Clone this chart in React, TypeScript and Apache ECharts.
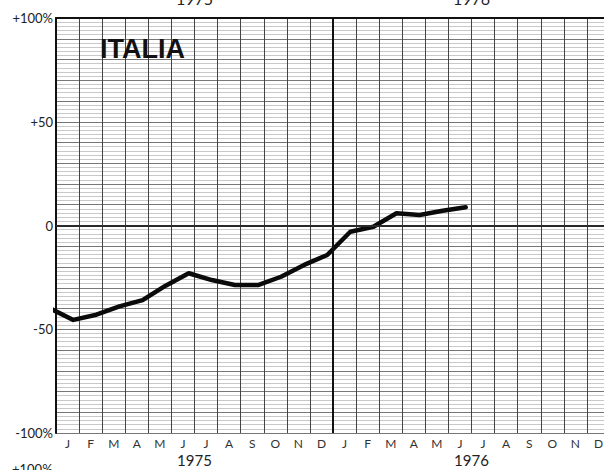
import React, { useEffect, useRef } from "react";
import * as echarts from "echarts";

const months = ["J", "F", "M", "A", "M", "J", "J", "A", "S", "O", "N", "D"];
const monthLabels = [...months, ...months];
const years = ["1975", "1976"];
const yLabels: Record<number, string> = { 100: "+100%", 50: "+50", 0: "0", [-50]: "-50", [-100]: "-100%" };
// month position (0 = start of Jan 1975) of each reading, Dec 1974 .. Jun 1976
const readingMonths = [-0.25, 0.75, 1.75, 2.75, 3.75, 4.75, 5.75, 6.75, 7.75, 8.75, 9.75, 10.75, 11.75, 12.75, 13.75, 14.75, 15.75, 16.75, 17.75];
const values = [-40, -45.5, -43, -39, -36, -29, -23, -26.3, -28.7, -28.7, -24.7, -19, -14.2, -3, -0.6, 5.9, 5.1, 7.1, 8.8];

const FONT = "Lato, 'DejaVu Sans', sans-serif";

export default function App() {
  const ref = useRef<HTMLDivElement>(null);
  useEffect(() => {
    if (!ref.current) return;
    const chart = echarts.init(ref.current, null, { renderer: "svg" });
    chart.setOption({
      animation: false,
      backgroundColor: "#ffffff",
      title: {
        text: "ITALIA",
        left: 100,
        top: 35,
        padding: 0,
        textStyle: { fontFamily: "'Liberation Sans', Arial, sans-serif", fontWeight: "bold", fontSize: 27, color: "#111" },
      },
      grid: { left: 56, top: 18, width: 554, height: 415, containLabel: false, outerBoundsMode: "none" },
      xAxis: [
        {
          type: "category",
          position: "bottom",
          data: monthLabels,
          boundaryGap: true,
          axisLine: { show: true, lineStyle: { color: "#111", width: 2 } },
          axisTick: { show: false },
          axisLabel: { interval: 0, color: "#333", fontSize: 12, fontFamily: FONT, margin: 4 },
          splitLine: { show: true, interval: 0, lineStyle: { color: "#444", width: 1 } },
        },
        {
          type: "category",
          position: "bottom",
          data: years,
          offset: 16,
          axisLine: { show: false },
          axisTick: { show: false },
          axisLabel: { interval: 0, color: "#222", fontSize: 15, fontFamily: FONT, margin: 3 },
          splitLine: { show: false },
        },
        {
          type: "category",
          position: "top",
          data: years,
          offset: 0,
          axisLine: { show: true, lineStyle: { color: "#111", width: 2 } },
          axisTick: { show: false },
          axisLabel: { interval: 0, color: "#222", fontSize: 16, fontFamily: FONT, margin: 12 },
          splitLine: { show: false },
        },
        { type: "value", min: 0, max: 24, show: false, splitLine: { show: false } },
      ],
      yAxis: {
        type: "value",
        min: -100,
        max: 100,
        interval: 10,
        axisLine: { show: true, lineStyle: { color: "#111", width: 2 } },
        axisTick: { show: false },
        axisLabel: {
          color: "#222",
          fontSize: 13,
          fontFamily: FONT,
          margin: 3,
          formatter: (v: number) => yLabels[v] ?? "",
        },
        splitLine: { show: true, lineStyle: { color: "#777", width: 1 } },
        minorTick: { show: false, splitNumber: 5 },
        minorSplitLine: { show: true, lineStyle: { color: "#bbb", width: 0.8 } },
      },
      graphic: [
        { type: "text", left: 12, top: 462, style: { text: "+100%", fill: "#222", font: `13px ${FONT}` } },
      ],
      series: [
        {
          type: "line",
          xAxisIndex: 3,
          data: readingMonths.map((m, i) => [m, values[i]]),
          showSymbol: false,
          clip: true,
          lineStyle: { color: "#0a0a0a", width: 4.5, join: "round", cap: "round" },
          markLine: {
            silent: true,
            symbol: "none",
            label: { show: false },
            data: [
              { xAxis: 12, lineStyle: { color: "#111", width: 2, type: "solid" } },
              { yAxis: 0, lineStyle: { color: "#333", width: 1.5, type: "solid" } },
            ],
          },
        },
      ],
    });
    return () => chart.dispose();
  }, []);
  return <div ref={ref} style={{ position: "absolute", left: 0, top: 0, width: 604, height: 470 }} />;
}
